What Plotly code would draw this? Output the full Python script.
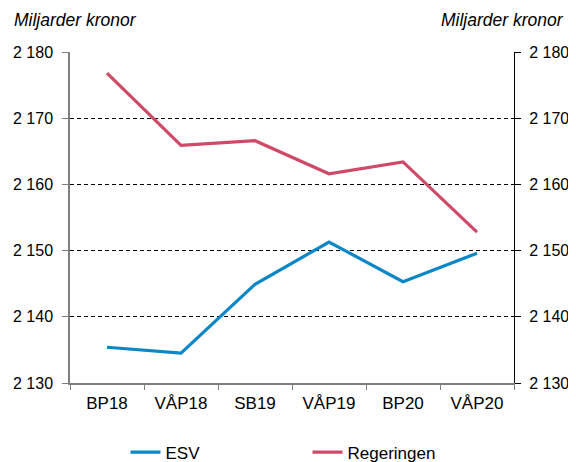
import plotly.graph_objects as go

categories = ["BP18", "VÅP18", "SB19", "VÅP19", "BP20", "VÅP20"]
esv = [2135.4, 2134.5, 2144.9, 2151.3, 2145.3, 2149.6]
regeringen = [2176.8, 2165.9, 2166.6, 2161.6, 2163.4, 2152.8]
y_ticks = [2130, 2140, 2150, 2160, 2170, 2180]
y_ticklabels = ["2 130", "2 140", "2 150", "2 160", "2 170", "2 180"]

FONT = "Liberation Sans, Arial, sans-serif"
BLUE = "#0A87C6"
RED = "#CF4A69"

fig = go.Figure()
fig.add_trace(go.Scatter(x=categories, y=esv, name="ESV", mode="lines",
                         line=dict(color=BLUE, width=3.2)))
fig.add_trace(go.Scatter(x=categories, y=regeringen, name="Regeringen", mode="lines",
                         line=dict(color=RED, width=3.2)))
fig.add_trace(go.Scatter(x=categories, y=esv, yaxis="y2", mode="lines",
                         line=dict(color="rgba(0,0,0,0)", width=0),
                         showlegend=False, hoverinfo="skip"))

yax = dict(range=[2130, 2180], tickvals=y_ticks, ticktext=y_ticklabels,
           ticks="outside", ticklen=6, tickwidth=1,
           tickfont=dict(family=FONT, size=16, color="#000"),
           zeroline=False, fixedrange=True)

# page has an 8px body margin: the figure is offset by 8px right and down
fig.update_layout(
    width=568, height=454,
    margin=dict(l=62, r=62, t=44, b=79, autoexpand=False),
    paper_bgcolor="white", plot_bgcolor="white",
    font=dict(family=FONT, size=16, color="#000"),
    xaxis=dict(type="category", tickson="boundaries", ticks="outside", ticklen=5,
               tickcolor="#7f7f7f", showline=True, linecolor="#7f7f7f", linewidth=1.5,
               showgrid=False, tickfont=dict(family=FONT, size=17, color="#000"),
               ticklabelstandoff=4, range=[-0.5, 5.5]),
    yaxis=dict(**yax, showline=True, linecolor="#7f7f7f", linewidth=1.5, tickcolor="#7f7f7f",
               showgrid=True, gridcolor="#000", griddash="4px,3px", gridwidth=1,
               ticklabelstandoff=6),
    yaxis2=dict(**yax, overlaying="y", side="right", showline=True, linecolor="#000",
                linewidth=1, tickcolor="#000", showgrid=False, ticklabelstandoff=5),
    legend=dict(orientation="h", x=0.125, xanchor="left", y=-0.21, yanchor="middle",
                font=dict(family=FONT, size=17, color="#000"),
                entrywidth=137, entrywidthmode="pixels", itemwidth=30,
                bgcolor="rgba(0,0,0,0)", tracegroupgap=0),
    annotations=[
        dict(text="<i>Miljarder kronor</i>", xref="paper", yref="paper", x=-0.1306, y=1.097,
             xanchor="left", yanchor="middle", showarrow=False,
             font=dict(family=FONT, size=17.5, color="#000")),
        dict(text="<i>Miljarder kronor</i>", xref="paper", yref="paper", x=1.117, y=1.097,
             xanchor="right", yanchor="middle", showarrow=False,
             font=dict(family=FONT, size=17.5, color="#000")),
    ],
)

fig.write_html("out.html")
